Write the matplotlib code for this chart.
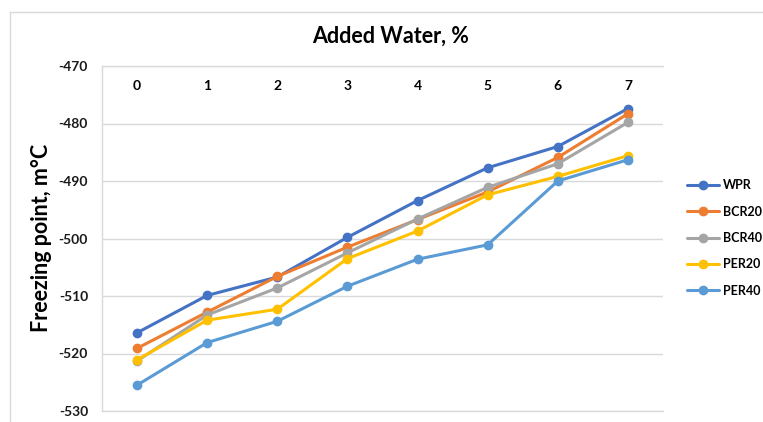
import matplotlib
matplotlib.use("Agg")
import matplotlib.pyplot as plt
from matplotlib.lines import Line2D

plt.rcParams["font.family"] = ["Lato", "DejaVu Sans"]

# data
added_water = [0, 1, 2, 3, 4, 5, 6, 7]
wpr = [-516.4, -509.9, -506.7, -499.8, -493.4, -487.7, -484.0, -477.4]
bcr20 = [-519.1, -512.8, -506.6, -501.5, -496.7, -491.9, -485.9, -478.3]
bcr40 = [-521.3, -513.3, -508.6, -502.5, -496.6, -491.1, -487.0, -479.8]
per20 = [-521.1, -514.2, -512.3, -503.5, -498.7, -492.4, -489.2, -485.6]
per40 = [-525.5, -518.1, -514.4, -508.3, -503.6, -501.1, -490.0, -486.3]
y_ticks = [-530, -520, -510, -500, -490, -480, -470]

series = [
    ("WPR", wpr, "#4472C4"),
    ("BCR20", bcr20, "#ED7D31"),
    ("BCR40", bcr40, "#A5A5A5"),
    ("PER20", per20, "#FFC000"),
    ("PER40", per40, "#5B9BD5"),
]

W, H = 763, 422
fig = plt.figure(figsize=(W / 100, H / 100), dpi=100)

# chart-area border (Excel style), cut by the image edge
fig.add_artist(Line2D([10 / W, 1], [1 - 12 / H, 1 - 12 / H], color="#D9D9D9", lw=1))
fig.add_artist(Line2D([10 / W, 10 / W], [0, 1 - 12 / H], color="#D9D9D9", lw=1))

ax = fig.add_axes([102 / W, 1 - 411 / H, (663 - 102) / W, (411 - 66) / H])

for name, vals, col in series:
    ax.plot(added_water, vals, color=col, lw=2.2, marker="o", ms=6,
            label=name, solid_capstyle="round", zorder=3)

ax.set_xlim(-0.5, 7.5)
ax.set_ylim(-530, -470)
ax.set_yticks(y_ticks)
ax.set_yticklabels([str(v) for v in y_ticks], fontsize=10, fontweight="bold", color="#1a1a1a")
ax.set_xticks(added_water)
ax.set_xticklabels([str(v) for v in added_water], fontsize=10, fontweight="bold", color="#000000")
ax.tick_params(axis="x", top=False, bottom=False, labeltop=True, labelbottom=False,
               length=0, pad=-19)
ax.tick_params(axis="y", length=0, pad=10)

ax.grid(axis="y", color="#D9D9D9", lw=1)
ax.set_axisbelow(True)
ax.spines["right"].set_visible(False)
for s in ["left", "top", "bottom"]:
    ax.spines[s].set_color("#D9D9D9")
    ax.spines[s].set_linewidth(1)

fig.text(391 / W, 1 - 36 / H, "Added Water, %", ha="center", va="center",
         fontsize=15.5, fontweight="bold")
fig.text(42 / W, 1 - 238 / H, "Freezing point, m°C", ha="center", va="center",
         rotation=90, fontsize=15.5, fontweight="bold")

ax.legend(loc="center left", bbox_to_anchor=(678 / W, 1 - 238 / H),
          bbox_transform=fig.transFigure, frameon=False, borderpad=0.2,
          prop={"size": 9, "weight": "bold"}, handlelength=2.6,
          handletextpad=0.3, labelspacing=1.15)

fig.savefig("out.png", dpi=100)
